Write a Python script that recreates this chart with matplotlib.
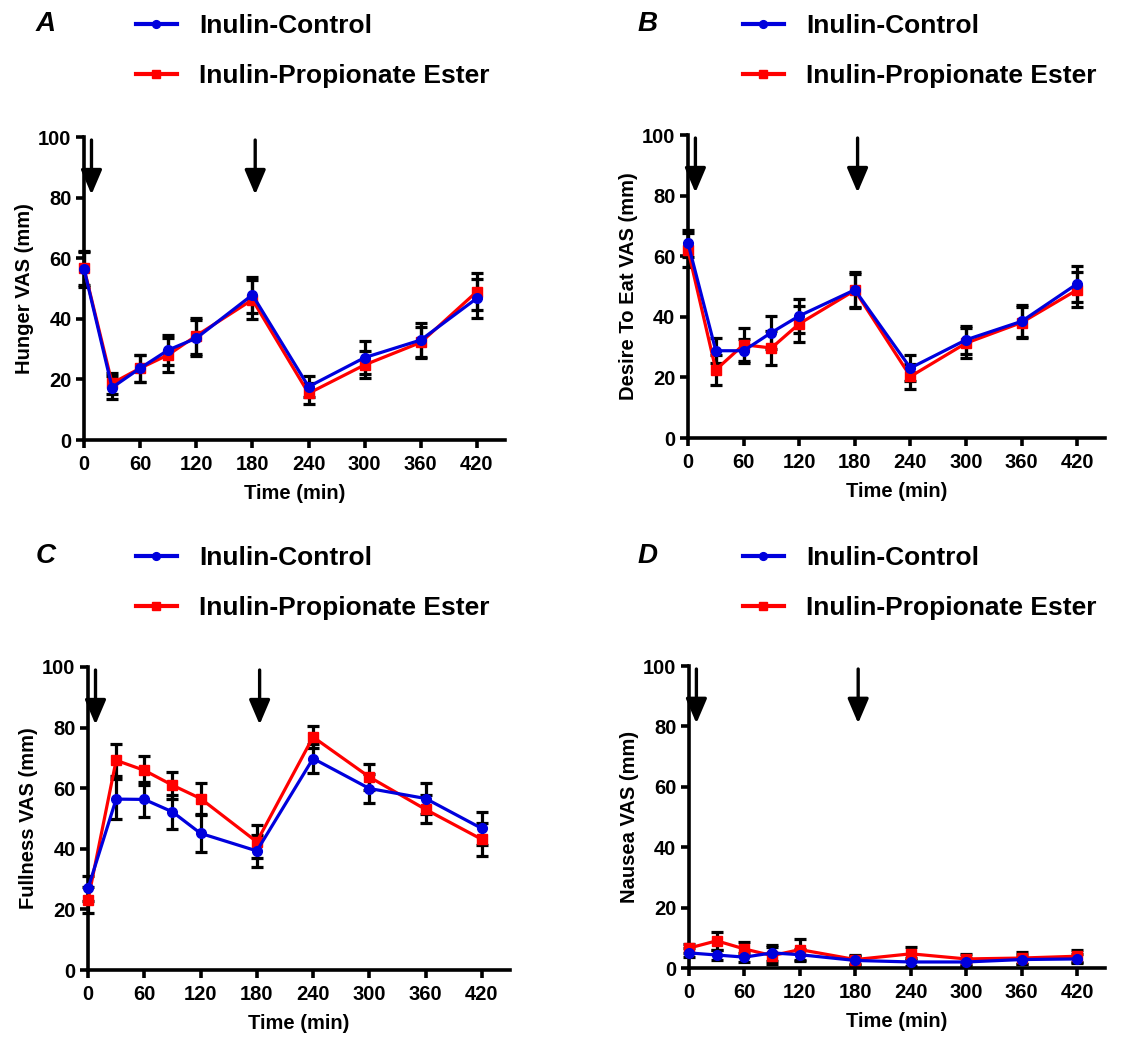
import matplotlib
matplotlib.use("Agg")
import matplotlib.pyplot as plt
import numpy as np

plt.rcParams['font.family'] = ['Liberation Sans', 'DejaVu Sans']
plt.rcParams['font.weight'] = 'bold'

time = [0, 30, 60, 90, 120, 180, 240, 300, 360, 420]
xticks = [0, 60, 120, 180, 240, 300, 360, 420]
yticks = [0, 20, 40, 60, 80, 100]
arrow_times = [8, 183]

labels = ["Inulin-Control", "Inulin-Propionate Ester"]

# Panel A: Hunger
hunger_ctrl = [56.5, 17.3, 23.7, 29.7, 33.6, 47.9, 17.6, 27.2, 33.0, 46.8]
hunger_ctrl_err = [6.0, 3.8, 4.5, 5.0, 6.0, 6.0, 3.5, 5.5, 5.5, 6.5]
hunger_ipe = [56.7, 18.7, 23.7, 28.1, 34.4, 46.3, 15.4, 24.8, 32.2, 49.0]
hunger_ipe_err = [5.5, 3.5, 4.5, 5.5, 6.0, 6.5, 3.5, 4.5, 5.0, 6.0]

# Panel B: Desire to eat
desire_ctrl = [64.3, 28.8, 28.8, 34.8, 40.3, 48.9, 23.1, 32.4, 38.5, 50.9]
desire_ctrl_err = [4.4, 4.2, 4.0, 5.3, 5.6, 6.0, 4.2, 4.7, 5.3, 6.0]
desire_ipe = [62.1, 22.5, 30.8, 29.7, 37.7, 48.7, 20.3, 31.3, 38.1, 48.9]
desire_ipe_err = [5.5, 5.0, 5.5, 5.5, 6.0, 5.5, 4.0, 5.0, 5.0, 5.8]

# Panel C: Fullness
full_ctrl = [26.9, 56.4, 56.3, 52.2, 45.1, 39.3, 69.8, 59.9, 56.6, 46.7]
full_ctrl_err = [4.0, 6.7, 5.8, 5.7, 6.1, 5.2, 4.7, 4.7, 5.2, 5.5]
full_ipe = [23.1, 69.2, 65.9, 61.0, 56.6, 42.3, 76.9, 63.7, 53.0, 43.1]
full_ipe_err = [4.4, 5.3, 4.8, 4.4, 5.2, 5.5, 3.6, 4.4, 4.6, 5.5]

# Panel D: Nausea
naus_ctrl = [5.0, 4.3, 3.6, 5.0, 4.4, 2.5, 2.0, 2.0, 2.8, 3.0]
naus_ctrl_err = [1.5, 1.5, 1.5, 2.7, 2.0, 1.5, 1.2, 1.2, 1.5, 1.5]
naus_ipe = [6.6, 9.0, 6.3, 4.1, 6.1, 2.8, 4.7, 3.0, 3.3, 3.9]
naus_ipe_err = [1.5, 3.0, 2.2, 2.7, 3.5, 1.5, 2.2, 1.7, 2.0, 2.0]

panels = [
    ("A", "Hunger VAS (mm)", hunger_ctrl, hunger_ctrl_err, hunger_ipe, hunger_ipe_err),
    ("B", "Desire To Eat VAS (mm)", desire_ctrl, desire_ctrl_err, desire_ipe, desire_ipe_err),
    ("C", "Fullness VAS (mm)", full_ctrl, full_ctrl_err, full_ipe, full_ipe_err),
    ("D", "Nausea VAS (mm)", naus_ctrl, naus_ctrl_err, naus_ipe, naus_ipe_err),
]

W, H = 1147, 1039
fig = plt.figure(figsize=(W / 100, H / 100), dpi=100)

# axes rects in pixels: left, bottom(y from top), width, top(y from top)
rects = [
    (84, 440, 421, 137),
    (688, 438, 417, 135),
    (88, 970, 422, 667),
    (689, 968, 416, 666),
]
# legend / letter positions in pixels (letter x, row1 y, line x)
leg_pos = [
    (36, 22, 136),
    (638, 22, 743),
    (36, 554, 136),
    (638, 554, 743),
]

for (letter, ylabel, c, ce, p, pe), (l, b, w, t), (lx, ly, linex) in zip(panels, rects, leg_pos):
    ax = fig.add_axes([l / W, 1 - b / H, w / W, (b - t) / H])
    ax.errorbar(time, p, yerr=pe, fmt='none', ecolor='black', elinewidth=2.3,
                capsize=4, capthick=2.3, zorder=2, clip_on=False)
    ax.errorbar(time, c, yerr=ce, fmt='none', ecolor='black', elinewidth=2.3,
                capsize=4, capthick=2.3, zorder=2, clip_on=False)
    lp, = ax.plot(time, p, color='#ff0000', lw=2.3, marker='s', ms=7,
                  zorder=3, clip_on=False, label=labels[1])
    lc, = ax.plot(time, c, color='#0000dd', lw=2.3, marker='o', ms=7,
                  zorder=4, clip_on=False, label=labels[0])
    for at in arrow_times:
        ax.annotate("", xy=(at, 81.0), xytext=(at, 99),
                    arrowprops=dict(arrowstyle='-|>,head_width=0.32,head_length=0.75',
                                    mutation_scale=20, color='black', lw=2.4,
                                    shrinkA=0, shrinkB=0),
                    annotation_clip=False, zorder=5)
    ax.set_xlim(0, 450)
    ax.set_ylim(0, 100)
    ax.set_xticks(xticks)
    ax.set_yticks(yticks)
    for s in ['top', 'right']:
        ax.spines[s].set_visible(False)
    for s in ['left', 'bottom']:
        ax.spines[s].set_linewidth(2.6)
    ax.tick_params(axis='both', width=2.6, length=6, labelsize=14.5)
    ax.tick_params(axis='x', pad=5)
    ax.tick_params(axis='y', pad=3)
    for lab in ax.get_xticklabels() + ax.get_yticklabels():
        lab.set_fontweight('bold')
    ax.set_ylabel(ylabel, fontsize=14.5, fontweight='bold', labelpad=3)
    ax.set_xlabel("Time (min)", fontsize=14.5, fontweight='bold', labelpad=7)

    fig.text(lx / W, 1 - (ly + 2) / H, letter, fontsize=20, fontweight='bold',
             style='italic', ha='left', va='center')
    leg = ax.legend(handles=[lc, lp], loc='upper left',
                    bbox_to_anchor=(linex / W, 1 - (ly - 8) / H),
                    bbox_transform=fig.transFigure, frameon=False,
                    fontsize=19, handlelength=1.55, handletextpad=0.85,
                    labelspacing=1.0, borderpad=0, borderaxespad=0,
                    numpoints=1, markerscale=0.8)
    for line in leg.get_lines():
        line.set_linewidth(3.0)
    for txt in leg.get_texts():
        txt.set_fontweight('bold')

fig.savefig("out.png", dpi=100)
